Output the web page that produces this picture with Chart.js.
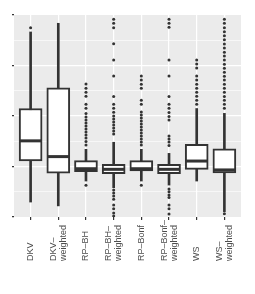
<!DOCTYPE html>
<html>
<head>
<meta charset="utf-8">
<script src="https://cdn.jsdelivr.net/npm/chart.js@4"></script>
<style>
  html, body { margin: 0; padding: 0; background: #fff; }
</style>
</head>
<body>
<canvas id="chart" width="255" height="294"></canvas>
<script>
// categories and box statistics (y scale 0..1, no tick labels)
const categories = [
  "DKV", ["DKV–", "weighted"], "RP–BH", ["RP–BH–", "weighted"],
  "RP–Bonf", ["RP–Bonf–", "weighted"], "WS", ["WS–", "weighted"]
];
const lowerWhisker = [0.074, 0.055, 0.178, 0.145, 0.178, 0.158, 0.178, 0.026];
const q1 = [0.278, 0.217, 0.224, 0.214, 0.228, 0.214, 0.236, 0.218];
const median = [0.377, 0.299, 0.239, 0.236, 0.239, 0.236, 0.277, 0.233];
const q3 = [0.537, 0.640, 0.279, 0.261, 0.279, 0.261, 0.360, 0.337];
const upperWhisker = [0.916, 0.959, 0.335, 0.370, 0.335, 0.315, 0.537, 0.513];
const outliers = [
  [0.937],
  [],
  [0.658, 0.637, 0.617, 0.598, 0.558, 0.538, 0.512, 0.495, 0.480, 0.465, 0.450, 0.436,
   0.421, 0.406, 0.391, 0.374, 0.356, 0.157],
  [0.979, 0.959, 0.937, 0.858, 0.777, 0.698, 0.597, 0.558, 0.538, 0.518, 0.500, 0.485,
   0.470, 0.455, 0.441, 0.426, 0.411, 0.134, 0.119, 0.104, 0.088, 0.059, 0.041, 0.020, 0.005],
  [0.698, 0.678, 0.657, 0.637, 0.578, 0.558, 0.520, 0.505, 0.490, 0.475, 0.460, 0.446,
   0.431, 0.416, 0.401, 0.386, 0.371, 0.356, 0.157],
  [0.979, 0.959, 0.939, 0.777, 0.698, 0.596, 0.558, 0.538, 0.517, 0.497, 0.480, 0.401,
   0.386, 0.371, 0.354, 0.139, 0.125, 0.109, 0.097, 0.059, 0.041, 0.015],
  [0.777, 0.757, 0.738, 0.698, 0.678, 0.657, 0.637, 0.617, 0.598, 0.578, 0.558],
  [0.979, 0.959, 0.937, 0.917, 0.897, 0.878, 0.856, 0.837, 0.815, 0.797, 0.777, 0.756,
   0.736, 0.716, 0.697, 0.678, 0.657, 0.637, 0.617, 0.597, 0.578, 0.558, 0.538, 0.016]
];
const yTicks = [0, 0.125, 0.25, 0.375, 0.5, 0.625, 0.75, 0.875, 1];
const yMajor = [0, 0.25, 0.5, 0.75, 1];

const boxData = categories.map((c, i) => ({ x: i + 1, y: [q1[i], q3[i]] }));
const whiskerData = categories.map((c, i) => ({ x: i + 1, y: [lowerWhisker[i], upperWhisker[i]] }));
const medianData = categories.map((c, i) => ({ x: i + 1, y: median[i] }));
const outlierData = [];
outliers.forEach((list, i) => list.forEach(v => outlierData.push({ x: i + 1, y: v })));

const dark = "#333333";

// grey panel like ggplot
const panelBg = {
  id: "panelBg",
  beforeDraw(chart) {
    const { ctx, chartArea: a } = chart;
    ctx.save();
    ctx.fillStyle = "#EBEBEB";
    ctx.fillRect(a.left, a.top, a.right - a.left, a.bottom - a.top);
    ctx.restore();
  }
};

// vertical category labels, start-justified (bottom) like ggplot angle = 90, hjust = 0
const xLabels = {
  id: "xLabels",
  afterDraw(chart) {
    const { ctx } = chart;
    const xs = chart.scales.x;
    const bottom = xs.top + 44;
    const lineH = 10;
    ctx.save();
    ctx.font = "9px 'Liberation Sans', Arial, sans-serif";
    ctx.fillStyle = "#4D4D4D";
    ctx.textAlign = "left";
    ctx.textBaseline = "middle";
    categories.forEach((lab, i) => {
      const lines = Array.isArray(lab) ? lab : [lab];
      const x = xs.getPixelForValue(i + 1);
      lines.forEach((t, j) => {
        const off = (j - (lines.length - 1) / 2) * lineH;
        ctx.save();
        ctx.translate(x + off, bottom);
        ctx.rotate(-Math.PI / 2);
        ctx.fillText(t, 0, 0);
        ctx.restore();
      });
    });
    ctx.restore();
  }
};

new Chart(document.getElementById("chart"), {
  type: "bar",
  data: {
    datasets: [
      {
        type: "line", data: outlierData, showLine: false,
        pointRadius: 1.5, pointBorderWidth: 0, pointBackgroundColor: dark, order: 0
      },
      {
        type: "line", data: medianData, showLine: false, pointStyle: "line",
        pointRadius: 11, pointBorderWidth: 3, pointBorderColor: dark, order: 1
      },
      {
        type: "bar", data: boxData, backgroundColor: "#ffffff", borderColor: dark,
        borderWidth: 2, borderSkipped: false, barThickness: 23, grouped: false, order: 2
      },
      {
        type: "bar", data: whiskerData, backgroundColor: dark, borderWidth: 0,
        barThickness: 2, grouped: false, order: 3
      }
    ]
  },
  options: {
    responsive: false,
    animation: false,
    layout: { padding: { top: 15, right: 3, left: 0, bottom: 0 } },
    plugins: { legend: { display: false }, tooltip: { enabled: false } },
    scales: {
      x: {
        type: "linear",
        min: 0.4,
        max: 8.6,
        offset: false,
        afterBuildTicks: (axis) => { axis.ticks = categories.map((c, i) => ({ value: i + 1 })); },
        afterFit: (axis) => { axis.height = 77; },
        grid: { color: "#ffffff", lineWidth: 1.2, offset: false, tickColor: dark, tickLength: 3 },
        border: { display: false },
        ticks: { autoSkip: false, maxRotation: 0, callback: () => "" }
      },
      y: {
        type: "linear",
        min: 0,
        max: 1,
        afterBuildTicks: (axis) => { axis.ticks = yTicks.map(v => ({ value: v })); },
        afterFit: (axis) => { axis.width = 12; },
        grid: {
          color: (ctx) => (ctx.tick && (ctx.tick.value === 0 || ctx.tick.value === 1)) ? "rgba(0,0,0,0)" : "#ffffff",
          lineWidth: (ctx) => (ctx.tick && yMajor.includes(ctx.tick.value)) ? 1.2 : 0.6,
          tickColor: (ctx) => (ctx.tick && yMajor.includes(ctx.tick.value)) ? dark : "rgba(0,0,0,0)",
          tickLength: 2
        },
        border: { display: false },
        ticks: { callback: () => "", padding: 0 }
      }
    }
  },
  plugins: [panelBg, xLabels]
});
</script>
</body>
</html>
